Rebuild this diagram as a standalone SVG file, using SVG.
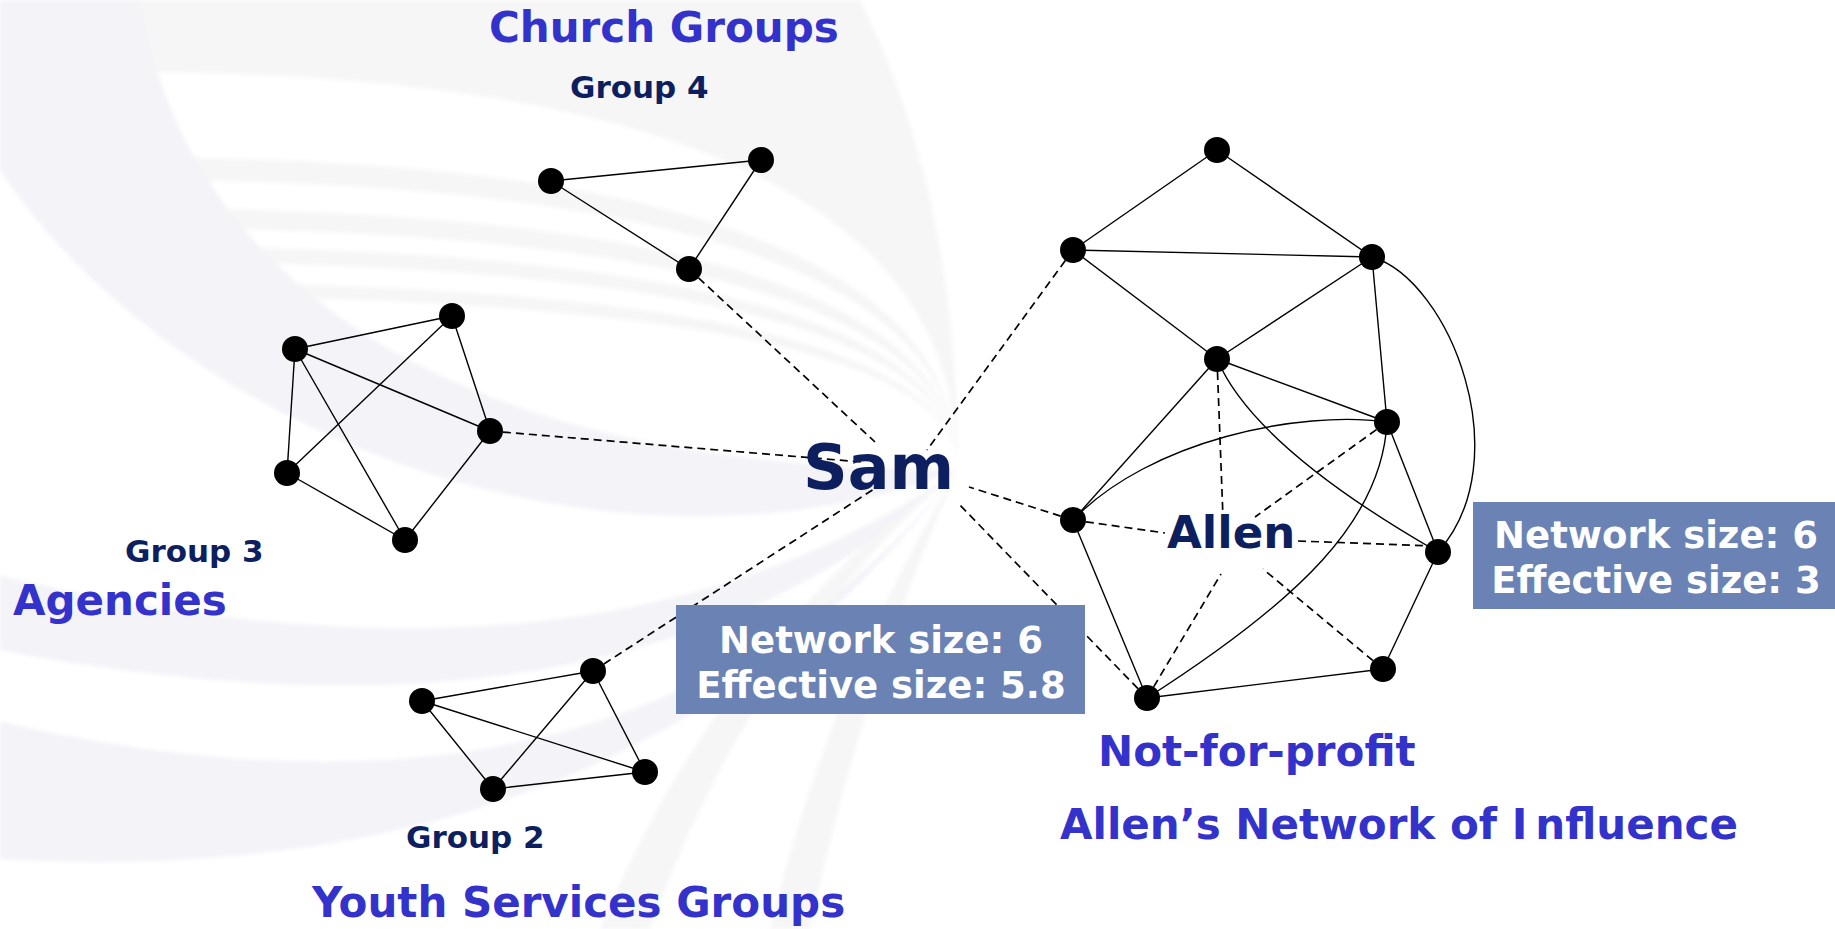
<svg xmlns="http://www.w3.org/2000/svg" width="1835" height="929" viewBox="0 0 1835 929">
  <defs>
    <filter id="soft" x="-5%" y="-5%" width="110%" height="110%">
      <feGaussianBlur stdDeviation="2"/>
    </filter>
  </defs>
  <style>
    .bg-g{fill:#f6f6f7}
    .bg-l{fill:#f3f3f8}
    .e{stroke:#000;stroke-width:1.4;fill:none}
    .d{stroke:#000;stroke-width:1.7;fill:none;stroke-dasharray:8 5}
    .n{fill:#000}
    text{font-family:"DejaVu Sans",Verdana,sans-serif;font-weight:bold}
    .title{font-size:42px;fill:#3333cc}
    .grp{font-size:31px;fill:#0d1f5f}
    .ego{fill:#0d1f5f}
    .box{fill:#6a83b4}
    .boxt{font-size:37px;fill:#ffffff;text-anchor:middle}
  </style>

  <!-- soft swirl background, all bands converge just right of Sam -->
  <rect width="1835" height="929" fill="#ffffff"/>
  <g id="background" filter="url(#soft)">
    <path class="bg-g" d="M120,0 H860 C930,140 958,300 958,470 Q958,72 120,72 Z"/>
    <path class="bg-g" d="M120,157 Q958,157 958,470 Q958,180 120,180 Z"/>
    <path class="bg-g" d="M120,208 Q958,208 958,470 Q958,228 120,228 Z"/>
    <path class="bg-g" d="M120,246 Q958,246 958,470 Q958,262 120,262 Z"/>
    <path class="bg-g" d="M120,282 Q958,282 958,470 Q958,296 120,296 Z"/>
    <path class="bg-l" d="M0,0 H140 C170,190 330,470 958,470 C620,600 180,440 0,170 Z"/>
    <path class="bg-l" d="M0,576 Q600,720 958,470 Q640,772 0,650 Z"/>
    <path class="bg-l" d="M0,722 Q640,870 958,470 Q640,894 0,859 Z"/>
    <path class="bg-g" d="M600,929 Q720,640 958,470 Q750,650 650,929 Z"/>
    <path class="bg-g" d="M770,929 Q830,680 958,470 Q860,690 810,929 Z"/>
  </g>

  <!-- ties: solid within groups, dashed for ego ties -->
  <g id="connectors">
    <!-- Group 4 -->
    <line class="e" x1="551" y1="181" x2="761" y2="160"/>
    <line class="e" x1="551" y1="181" x2="689" y2="269"/>
    <line class="e" x1="761" y1="160" x2="689" y2="269"/>
    <!-- Group 3 -->
    <line class="e" x1="295" y1="349" x2="452" y2="316"/>
    <line class="e" x1="295" y1="349" x2="490" y2="431"/>
    <line class="e" x1="295" y1="349" x2="287" y2="473"/>
    <line class="e" x1="295" y1="349" x2="405" y2="540"/>
    <line class="e" x1="452" y1="316" x2="490" y2="431"/>
    <line class="e" x1="452" y1="316" x2="287" y2="473"/>
    <line class="e" x1="490" y1="431" x2="405" y2="540"/>
    <line class="e" x1="287" y1="473" x2="405" y2="540"/>
    <!-- Group 2 -->
    <line class="e" x1="422" y1="701" x2="593" y2="671"/>
    <line class="e" x1="422" y1="701" x2="645" y2="772"/>
    <line class="e" x1="422" y1="701" x2="493" y2="789"/>
    <line class="e" x1="593" y1="671" x2="645" y2="772"/>
    <line class="e" x1="593" y1="671" x2="493" y2="789"/>
    <line class="e" x1="493" y1="789" x2="645" y2="772"/>
    <!-- Allen's network -->
    <line class="e" x1="1217" y1="150" x2="1073" y2="250"/>
    <line class="e" x1="1217" y1="150" x2="1372" y2="257"/>
    <line class="e" x1="1073" y1="250" x2="1372" y2="257"/>
    <line class="e" x1="1073" y1="250" x2="1217" y2="359"/>
    <line class="e" x1="1372" y1="257" x2="1217" y2="359"/>
    <line class="e" x1="1372" y1="257" x2="1387" y2="422"/>
    <line class="e" x1="1217" y1="359" x2="1387" y2="422"/>
    <line class="e" x1="1217" y1="359" x2="1073" y2="520"/>
    <line class="e" x1="1387" y1="422" x2="1438" y2="552"/>
    <line class="e" x1="1073" y1="520" x2="1147" y2="698"/>
    <line class="e" x1="1438" y1="552" x2="1383" y2="669"/>
    <line class="e" x1="1147" y1="698" x2="1383" y2="669"/>
    <path class="e" d="M1372,257 C1450,280 1520,460 1438,552"/>
    <path class="e" d="M1217,359 C1245,425 1330,490 1438,552"/>
    <path class="e" d="M1073,520 C1150,440 1300,410 1387,422"/>
    <path class="e" d="M1387,422 C1382,520 1300,600 1147,698"/>
    <!-- Sam's ties -->
    <line class="d" x1="689" y1="269" x2="875" y2="442"/>
    <line class="d" x1="490" y1="431" x2="862" y2="462"/>
    <line class="d" x1="1073" y1="250" x2="927" y2="450"/>
    <line class="d" x1="593" y1="671" x2="877" y2="487"/>
    <line class="d" x1="1073" y1="520" x2="969" y2="487"/>
    <line class="d" x1="1147" y1="698" x2="957" y2="502"/>
    <!-- Allen's ties -->
    <line class="d" x1="1217" y1="359" x2="1223" y2="518"/>
    <line class="d" x1="1387" y1="422" x2="1255" y2="517"/>
    <line class="d" x1="1073" y1="520" x2="1165" y2="533"/>
    <line class="d" x1="1298" y1="541" x2="1434" y2="546"/>
    <line class="d" x1="1147" y1="698" x2="1221" y2="574"/>
    <line class="d" x1="1383" y1="669" x2="1263" y2="569"/>
  </g>

  <!-- Group 4 nodes -->
  <g id="g4-a"><ellipse class="n" cx="551" cy="181" rx="13" ry="13"/></g>
  <g id="g4-b"><ellipse class="n" cx="761" cy="160" rx="13" ry="13"/></g>
  <g id="g4-c"><ellipse class="n" cx="689" cy="269" rx="13" ry="13"/></g>
  <!-- Group 3 nodes -->
  <g id="g3-a"><ellipse class="n" cx="295" cy="349" rx="13" ry="13"/></g>
  <g id="g3-b"><ellipse class="n" cx="452" cy="316" rx="13" ry="13"/></g>
  <g id="g3-c"><ellipse class="n" cx="490" cy="431" rx="13" ry="13"/></g>
  <g id="g3-d"><ellipse class="n" cx="287" cy="473" rx="13" ry="13"/></g>
  <g id="g3-e"><ellipse class="n" cx="405" cy="540" rx="13" ry="13"/></g>
  <!-- Group 2 nodes -->
  <g id="g2-a"><ellipse class="n" cx="422" cy="701" rx="13" ry="13"/></g>
  <g id="g2-b"><ellipse class="n" cx="593" cy="671" rx="13" ry="13"/></g>
  <g id="g2-c"><ellipse class="n" cx="645" cy="772" rx="13" ry="13"/></g>
  <g id="g2-d"><ellipse class="n" cx="493" cy="789" rx="13" ry="13"/></g>
  <!-- Not-for-profit nodes -->
  <g id="nfp-top"><ellipse class="n" cx="1217" cy="150" rx="13" ry="13"/></g>
  <g id="nfp-l1"><ellipse class="n" cx="1073" cy="250" rx="13" ry="13"/></g>
  <g id="nfp-r1"><ellipse class="n" cx="1372" cy="257" rx="13" ry="13"/></g>
  <g id="nfp-mid"><ellipse class="n" cx="1217" cy="359" rx="13" ry="13"/></g>
  <g id="nfp-r2"><ellipse class="n" cx="1387" cy="422" rx="13" ry="13"/></g>
  <g id="nfp-l2"><ellipse class="n" cx="1073" cy="520" rx="13" ry="13"/></g>
  <g id="nfp-r3"><ellipse class="n" cx="1438" cy="552" rx="13" ry="13"/></g>
  <g id="nfp-b1"><ellipse class="n" cx="1147" cy="698" rx="13" ry="13"/></g>
  <g id="nfp-b2"><ellipse class="n" cx="1383" cy="669" rx="13" ry="13"/></g>

  <!-- ego nodes -->
  <g id="sam"><text class="ego" x="803" y="489" font-size="62">Sam</text></g>
  <g id="allen"><text class="ego" x="1167" y="548" font-size="45">Allen</text></g>

  <!-- size call-outs -->
  <g id="sam-size">
    <rect class="box" x="676" y="605" width="409" height="109"/>
    <text class="boxt" x="881" y="653">Network size: 6</text>
    <text class="boxt" x="881" y="698">Effective size: 5.8</text>
  </g>
  <g id="allen-size">
    <rect class="box" x="1473" y="502" width="362" height="107"/>
    <text class="boxt" x="1656" y="548">Network size: 6</text>
    <text class="boxt" x="1656" y="593">Effective size: 3</text>
  </g>

  <!-- group captions -->
  <g id="labels">
    <text class="title" x="489" y="42">Church Groups</text>
    <text class="grp" x="570" y="98">Group 4</text>
    <text class="grp" x="125" y="562">Group 3</text>
    <text class="title" x="13" y="615">Agencies</text>
    <text class="grp" x="406" y="848">Group 2</text>
    <text class="title" x="312" y="917">Youth Services Groups</text>
    <text class="title" x="1098" y="766">Not-for-profit</text>
    <text class="title" x="1060" y="839">Allen’s Network of I<tspan dx="8">nfluence</tspan></text>
  </g>
</svg>
